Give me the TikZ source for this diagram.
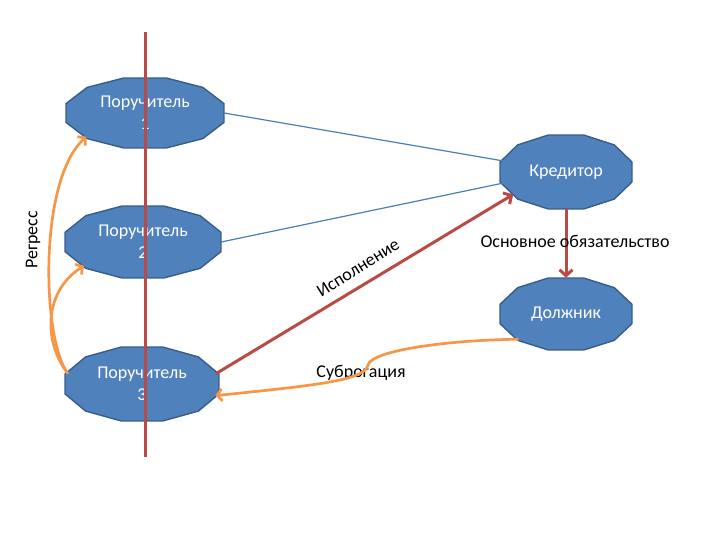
\documentclass[tikz,border=0pt]{standalone}
\usepackage{fontspec}
\setmainfont{Carlito}
\usetikzlibrary{shapes.geometric,arrows.meta}

\definecolor{partyfill}{HTML}{4F81BD}
\definecolor{partyedge}{HTML}{385D8A}
\definecolor{linkblue}{HTML}{4A7EBB}
\definecolor{dutyred}{HTML}{BA4A46}
\definecolor{regorange}{HTML}{F79646}

\tikzset{
	party/.style={ellipse,inner sep=0pt,text=white,align=center,font=\fontsize{18}{22}\selectfont},
	note/.style={inner sep=1pt,font=\fontsize{18}{22}\selectfont},
	link/.style={linkblue,line width=1.2pt},
	duty/.style={dutyred,line width=3pt,-{Straight Barb[length=6pt,width=13pt]}},
	regr/.style={regorange,line width=2.7pt,-{Straight Barb[length=5pt,width=12pt]}},
}

% name, x, y, half width, half height, text
\newcommand{\party}[6]{%
	\filldraw[fill=partyfill,draw=partyedge,line width=1.4pt,shift={(#2,#3)}]
		plot[samples at={15,45,...,345}] ({#4*cos(\x)/cos(15)},{#5*sin(\x)/cos(15)}) -- cycle;
	\node[party,minimum width=2*#4pt,minimum height=2*#5pt] (#1) at (#2,#3) {#6};}

\begin{document}
\begin{tikzpicture}[x=1pt,y=-1pt]
	\useasboundingbox (0,0) rectangle (720,540);
	
	\party{p1}{145}{113}{79}{35}{Поручитель\\1}
	\party{p2}{143}{242}{78}{36}{Поручитель\\2}
	\party{p3}{142}{384}{77}{37}{Поручитель\\3}
	\party{kred}{566}{172}{66}{37}{Кредитор}
	\party{dolzh}{566}{314}{66}{36}{Должник}
	
	\draw[link] (p1.east) -- (kred.170);
	\draw[link] (p2.east) -- (kred.190);
	\draw[duty] (p3.8) -- (kred.203);
	\draw[duty] (kred.south) -- (dolzh.north);
	
	\node[note] (duty) at (575,241) {Основное обязательство};
	\node[note,rotate=32] (pay) at (358,268) {Исполнение};
	\node[note,rotate=90] (back) at (33,240) {Регресс};
	\node[note] (subr) at (361,373) {Суброгация};
	
	% regress and subrogation
	\draw[regr] (p3.172) .. controls (42,340) and (38,180) .. (p1.202);
	\draw[regr] (p3.172) .. controls (42,340) and (45,290) .. (p2.202);
	\draw[regr,{Straight Barb[length=5pt,width=12pt]}-] (p3.-9) .. controls (320,385) and (365,380) .. (368,365)
		.. controls (372,350) and (450,340) .. (dolzh.208);
	
	\coordinate (top) at (145,32);
	\coordinate (bottom) at (145,457);
	\draw[dutyred,line width=3pt] (top) -- (bottom);
\end{tikzpicture}
\end{document}
